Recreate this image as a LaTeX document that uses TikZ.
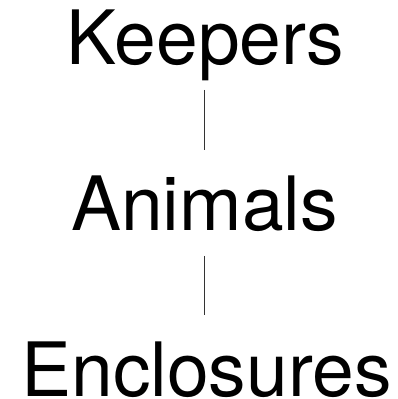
\documentclass[tikz,border=0pt]{standalone}
\usepackage{fontspec}
\setmainfont{TeX Gyre Heros}
\begin{document}
\begin{tikzpicture}[x=1pt,y=1pt,
  label/.style={anchor=base,inner sep=0pt,font=\fontsize{75}{80}\selectfont},
  link/.style={draw=black!80,line width=0.9pt}]
\useasboundingbox (0,0) rectangle (398,399);
\node[label] (k) at (205.5,334.5) {Keepers};
\node[label] (a) at (204.5,168.5) {Animals};
\node[label] (e) at (206.5,2.5) {Enclosures};
\draw[link] ([yshift=-25.5pt]k.base -| 204.7,0) -- ([yshift=80.5pt]a.base -| 204.7,0);
\draw[link] ([yshift=-25.5pt]a.base -| 204.7,0) -- ([yshift=81.5pt]e.base -| 204.7,0);
\end{tikzpicture}
\end{document}
